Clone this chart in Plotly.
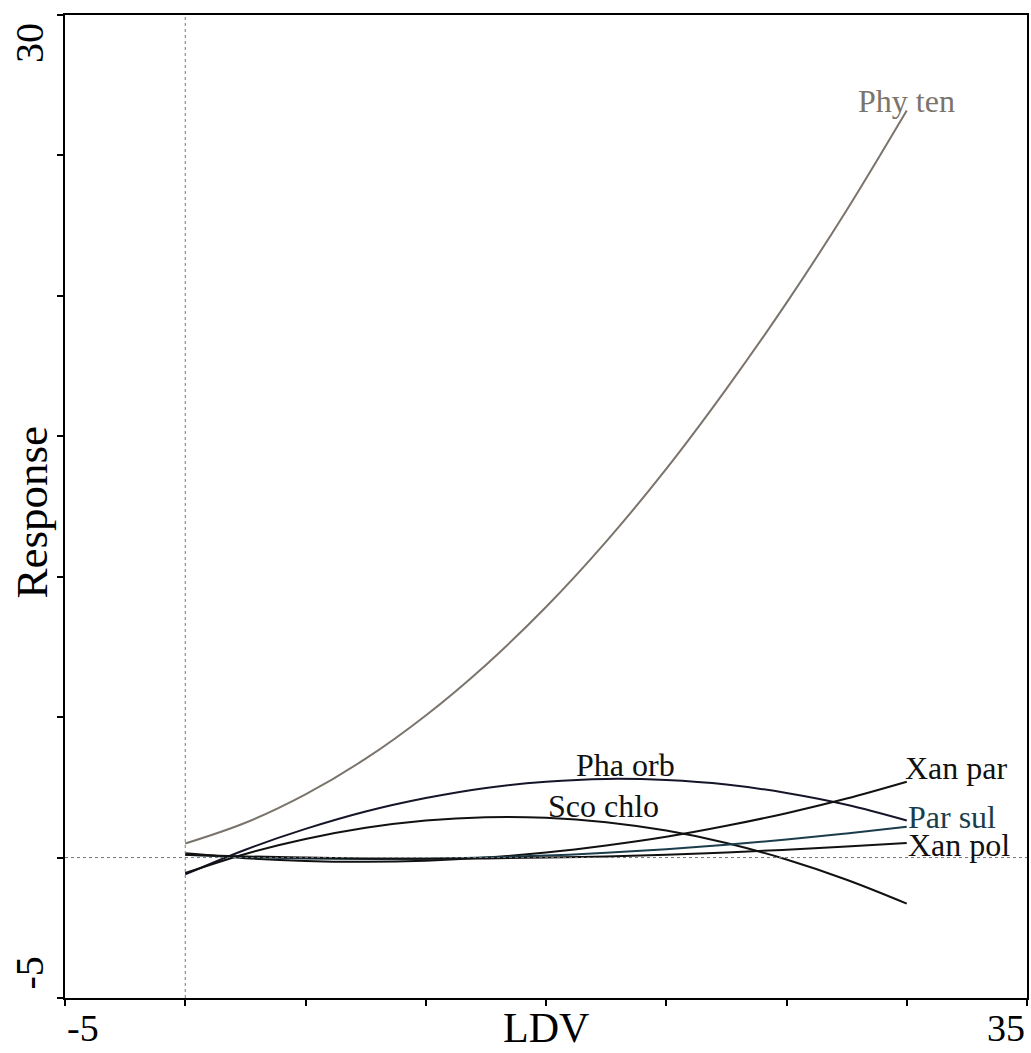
import plotly.graph_objects as go

# LDV positions at which the response curves were read
ldv = [0, 2.5, 5, 7.5, 10, 12.5, 15, 17.5, 20, 22.5, 25, 27.5, 30]

species = ["Phy ten", "Pha orb", "Sco chlo", "Xan par", "Par sul", "Xan pol"]

phy_ten = [0.50, 1.24, 2.25, 3.52, 5.06, 6.86, 8.92, 11.25, 13.84, 16.69, 19.75, 23.05, 26.6]
pha_orb = [-0.60, 0.28, 1.02, 1.64, 2.12, 2.48, 2.70, 2.80, 2.76, 2.60, 2.30, 1.88, 1.32]
sco_chlo = [-0.55, 0.13, 0.66, 1.06, 1.32, 1.44, 1.42, 1.26, 0.96, 0.52, -0.07, -0.79, -1.64]
xan_par = [0.15, -0.02, -0.12, -0.15, -0.11, 0.00, 0.18, 0.43, 0.74, 1.13, 1.58, 2.10, 2.70]
par_sul = [0.10, 0.02, -0.03, -0.05, -0.04, 0.00, 0.07, 0.17, 0.30, 0.46, 0.64, 0.86, 1.10]
xan_pol = [0.10, 0.04, 0.00, -0.03, -0.04, -0.03, 0.00, 0.04, 0.10, 0.18, 0.28, 0.39, 0.52]

series = [phy_ten, pha_orb, sco_chlo, xan_par, par_sul, xan_pol]
colors = ["#7b746c", "#15152a", "#111111", "#111111", "#1b3d4b", "#111111"]

x_ticks = [-5, 0, 5, 10, 15, 20, 25, 30, 35]
y_ticks = [-5, 0, 5, 10, 15, 20, 25, 30]

FONT = "Liberation Serif"

fig = go.Figure()

for name, ys, col in zip(species, series, colors):
    fig.add_trace(go.Scatter(
        x=ldv, y=ys, mode="lines", name=name,
        line=dict(color=col, width=2, shape="spline", smoothing=1.0),
        showlegend=False, hoverinfo="skip"))

# reference dotted lines at zero
fig.add_vline(x=0, line=dict(color="#777777", width=1, dash="dot"))
fig.add_hline(y=0, line=dict(color="#777777", width=1, dash="dot"))

# species labels
label_pos = {
    "Phy ten": dict(x=30, y=26.95, xanchor="center", color=colors[0]),
    "Pha orb": dict(x=18.3, y=3.3, xanchor="center", color="#111111"),
    "Sco chlo": dict(x=17.4, y=1.85, xanchor="center", color="#111111"),
    "Xan par": dict(x=29.85, y=3.2, xanchor="left", color="#111111"),
    "Par sul": dict(x=29.95, y=1.45, xanchor="left", color=colors[4]),
    "Xan pol": dict(x=29.95, y=0.46, xanchor="left", color="#111111"),
}
for name in species:
    p = label_pos[name]
    fig.add_annotation(x=p["x"], y=p["y"], text=name, showarrow=False,
                       xanchor=p["xanchor"], yanchor="middle",
                       font=dict(family=FONT, size=32, color=p["color"]))

# axis end labels
fig.add_annotation(x=x_ticks[0], y=0, xref="x", yref="paper", text=str(x_ticks[0]),
                   showarrow=False, xanchor="left", yanchor="middle", yshift=-30,
                   font=dict(family=FONT, size=38, color="#000"))
fig.add_annotation(x=x_ticks[-1], y=0, xref="x", yref="paper", text=str(x_ticks[-1]),
                   showarrow=False, xanchor="right", yanchor="middle", yshift=-30,
                   font=dict(family=FONT, size=38, color="#000"))
fig.add_annotation(x=0, y=y_ticks[-1], xref="paper", yref="y", text=str(y_ticks[-1]),
                   showarrow=False, xanchor="center", yanchor="top", xshift=-36, yshift=-6,
                   textangle=-90, font=dict(family=FONT, size=40, color="#000"))
fig.add_annotation(x=0, y=y_ticks[0], xref="paper", yref="y", text=str(y_ticks[0]),
                   showarrow=False, xanchor="center", yanchor="bottom", xshift=-36, yshift=6,
                   textangle=-90, font=dict(family=FONT, size=40, color="#000"))

# axis titles
fig.add_annotation(x=0.5, y=0, xref="paper", yref="paper", text="LDV", showarrow=False,
                   xanchor="center", yanchor="middle", yshift=-30,
                   font=dict(family=FONT, size=42, color="#000"))
fig.add_annotation(x=0, y=0.494, xref="paper", yref="paper", text="Response", showarrow=False,
                   xanchor="center", yanchor="middle", xshift=-33, textangle=-90,
                   font=dict(family=FONT, size=45, color="#000"))

axis_common = dict(showgrid=False, zeroline=False, showline=True, linecolor="#000",
                   linewidth=2, mirror=True, ticks="outside", ticklen=6, tickwidth=2,
                   tickcolor="#000", showticklabels=False)

fig.update_xaxes(range=[-5, 35], tickvals=x_ticks, **axis_common)
fig.update_yaxes(range=[-5, 30], tickvals=y_ticks, **axis_common)

fig.update_layout(width=1031, height=1053, plot_bgcolor="white", paper_bgcolor="white",
                  margin=dict(l=65, r=2, t=15, b=55), font=dict(family=FONT))

fig.write_html("out.html", config={"displayModeBar": False},
               post_script="document.body.style.margin='0';document.body.style.overflow='hidden';")
